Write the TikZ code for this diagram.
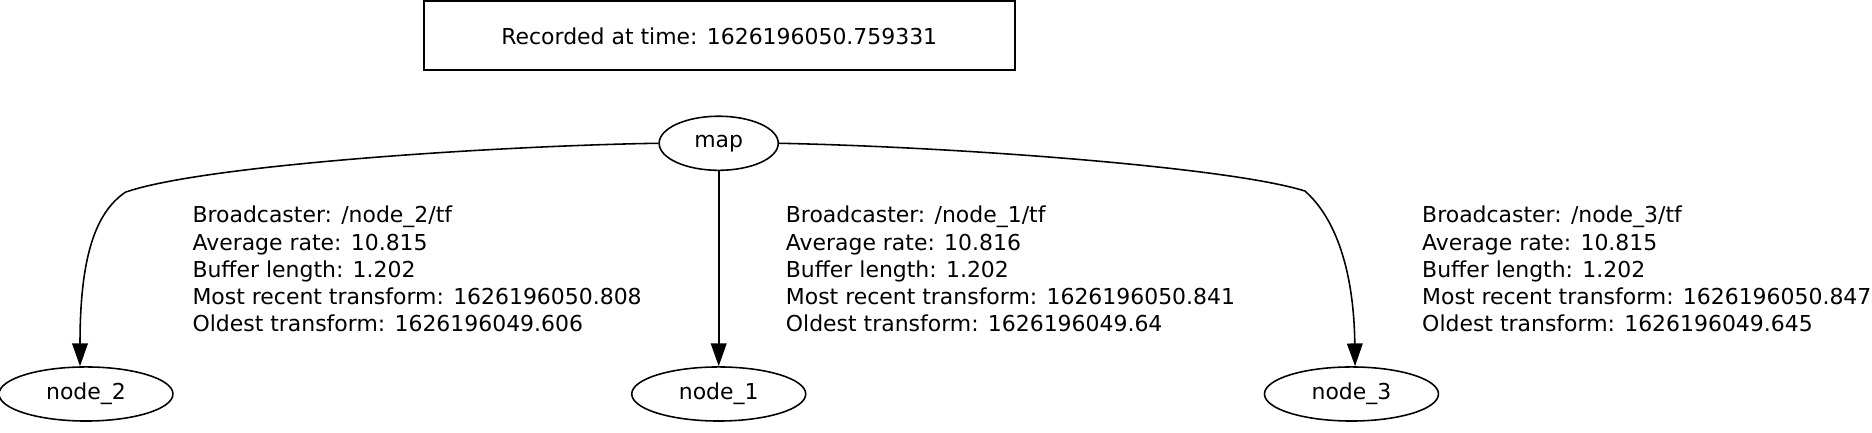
\documentclass[tikz,border=0pt]{standalone}
\usepackage{fontspec}
\setmainfont{DejaVu Sans}
\usetikzlibrary{positioning,arrows.meta,shapes.geometric}

\begin{document}
\begin{tikzpicture}[x=0.7617pt,y=-0.7617pt,font=\fontsize{14}{17.33}\selectfont,
  stampbox/.style={draw,line width=1.2pt,minimum width=377pt,minimum height=44pt,inner sep=0pt},
  frame/.style={draw,ellipse,line width=1pt,minimum width=111pt,minimum height=34.5pt,inner sep=0pt},
  info/.style={anchor=base west,align=left,inner sep=0pt},
  flow/.style={-{Triangle[length=14.5pt,width=10pt]},line width=1pt}]
\useasboundingbox (0,0) rectangle (1568,362);
\node[stampbox] (stamp) at (602.5,30) {Recorded at time: 1626196050.759331};
\node[frame,minimum width=76pt] (map) at (602,120) {map};
\node[frame] (node2) at (72,330) {node\_2};
\node[frame] (node1) at (602,330) {node\_1};
\node[frame] (node3) at (1132,330) {node\_3};
\node[info] (info2) at (161,277.7) {Broadcaster: /node\_2/tf\\Average rate: 10.815\\Buffer length: 1.202\\Most recent transform: 1626196050.808\\Oldest transform: 1626196049.606};
\node[info] (info1) at (658,277.7) {Broadcaster: /node\_1/tf\\Average rate: 10.816\\Buffer length: 1.202\\Most recent transform: 1626196050.841\\Oldest transform: 1626196049.64};
\node[info] (info3) at (1191,277.7) {Broadcaster: /node\_3/tf\\Average rate: 10.815\\Buffer length: 1.202\\Most recent transform: 1626196050.847\\Oldest transform: 1626196049.645};
\draw[flow] (map) -- (node1);
\draw[flow] (map.west) .. controls (420,122) and (170,138) .. (105,161) .. controls (80,178) and (67,215) .. ([xshift=-3.8pt]node2.north);
\draw[flow] (map.east) .. controls (800,123) and (1030,140) .. (1093,160) .. controls (1118,182) and (1134,225) .. ([xshift=2.3pt]node3.north);
\end{tikzpicture}
\end{document}
